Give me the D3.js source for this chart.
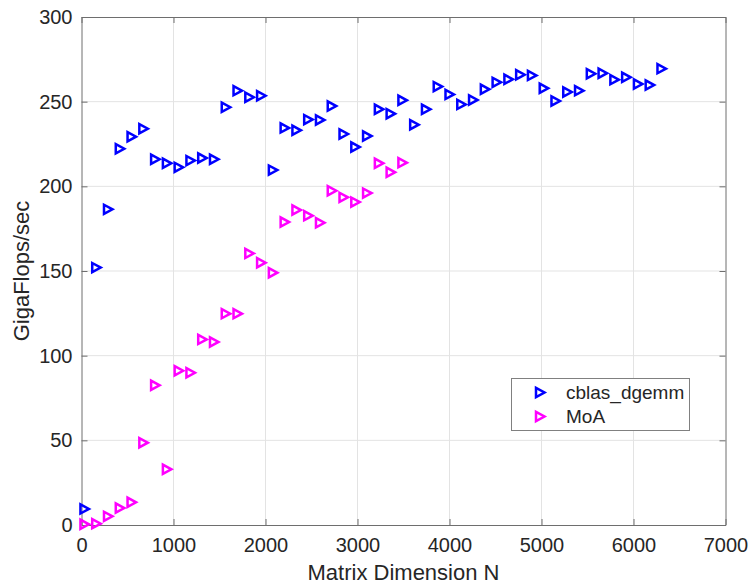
<!DOCTYPE html>
<html>
<head>
<meta charset="utf-8">
<script src="https://cdn.jsdelivr.net/npm/d3@7"></script>
<style>
  html, body { margin: 0; padding: 0; background: #fff; }
  svg { display: block; font-family: "Liberation Sans", Arial, Helvetica, sans-serif; }
</style>
</head>
<body>
<svg id="chart" width="751" height="587"></svg>
<script>
// ---- data ----
const matrixN = [32, 160, 288, 416, 544, 672, 800, 928, 1056, 1184, 1312, 1440, 1568, 1696, 1824, 1952,
  2080, 2208, 2336, 2464, 2592, 2720, 2848, 2976, 3104, 3232, 3360, 3488, 3616, 3744, 3872, 4000,
  4128, 4256, 4384, 4512, 4640, 4768, 4896, 5024, 5152, 5280, 5408, 5536, 5664, 5792, 5920, 6048,
  6176, 6304];
const cblasValues = [9.5, 152, 186.4, 222.2, 229.3, 234, 216, 213.6, 211.2, 215.2, 216.7, 216, 246.7, 256.5,
  252.6, 253.5, 209.6, 234.5, 233.1, 239.4, 239.2, 247.4, 230.9, 223.2, 229.7, 245.5, 242.9, 250.8,
  236.4, 245.5, 258.9, 254.3, 248.4, 251, 257.3, 261.4, 263.2, 265.9, 265.5, 257.9, 250.4, 255.7,
  256.5, 266.5, 266.8, 263, 264.4, 260.4, 259.8, 269.5];
const moaValues = [0.4, 0.8, 5.1, 10, 13.4, 48.6, 82.5, 32.9, 91.1, 89.9, 109.6, 108.1, 124.8, 124.8,
  160.4, 154.9, 149, 178.9, 186, 182.7, 178.5, 197.4, 193.5, 190.7, 196, 213.6, 208.3, 214];
const seriesNames = ["cblas_dgemm", "MoA"];
const seriesColors = ["#0000ff", "#ff00ff"];
const xTicks = [0, 1000, 2000, 3000, 4000, 5000, 6000, 7000];
const yTicks = [0, 50, 100, 150, 200, 250, 300];
const xLabel = "Matrix Dimension N";
const yLabel = "GigaFlops/sec";

// ---- layout ----
const W = 751, H = 587;
const m = { left: 81.5, right: 25.5, top: 17, bottom: 62 };
const svg = d3.select("#chart");
const x = d3.scaleLinear().domain([0, 7000]).range([m.left, W - m.right]);
const y = d3.scaleLinear().domain([0, 300]).range([H - m.bottom, m.top]);
const axisColor = "#262626";
const tickLen = 6;

// grid
const grid = svg.append("g");
grid.selectAll(".gx").data(xTicks.slice(1, -1)).join("line")
  .attr("x1", d => x(d)).attr("x2", d => x(d)).attr("y1", y(0)).attr("y2", y(300))
  .attr("stroke", "#e3e3e3").attr("stroke-width", 1);
grid.selectAll(".gy").data(yTicks.slice(1, -1)).join("line")
  .attr("y1", d => y(d)).attr("y2", d => y(d)).attr("x1", x(0)).attr("x2", x(7000))
  .attr("stroke", "#e3e3e3").attr("stroke-width", 1);

// axes
const fmt = d3.format("d");
const xAxis = svg.append("g").attr("transform", `translate(0,${y(0)})`)
  .call(d3.axisBottom(x).tickValues(xTicks).tickFormat(fmt).tickSizeInner(-tickLen).tickSizeOuter(0).tickPadding(12.5));
const xAxisTop = svg.append("g").attr("transform", `translate(0,${y(300)})`)
  .call(d3.axisTop(x).tickValues(xTicks).tickFormat("").tickSizeInner(-tickLen).tickSizeOuter(0));
const yAxis = svg.append("g").attr("transform", `translate(${x(0)},0)`)
  .call(d3.axisLeft(y).tickValues(yTicks).tickFormat(fmt).tickSizeInner(-tickLen).tickSizeOuter(0).tickPadding(9));
const yAxisRight = svg.append("g").attr("transform", `translate(${x(7000)},0)`)
  .call(d3.axisRight(y).tickValues(yTicks).tickFormat("").tickSizeInner(-tickLen).tickSizeOuter(0));

[xAxis, xAxisTop, yAxis, yAxisRight].forEach(g => {
  g.select(".domain").attr("stroke", "#6e6e6e").attr("stroke-width", 1);
  g.selectAll(".tick line").attr("stroke", "#6e6e6e").attr("stroke-width", 1);
  g.selectAll("text").attr("fill", axisColor).attr("font-size", 20)
    .attr("font-family", "'Liberation Sans', Arial, sans-serif");
});

// axis labels
svg.append("text").attr("x", (x(0) + x(7000)) / 2).attr("y", 580)
  .attr("text-anchor", "middle").attr("font-size", 22).attr("fill", axisColor).text(xLabel);
svg.append("text").attr("transform", `translate(29,${(y(0) + y(300)) / 2}) rotate(-90)`)
  .attr("text-anchor", "middle").attr("font-size", 22).attr("fill", axisColor).text(yLabel);

// marker
const tri = "M-4,-4.6 L4.5,0 L-4,4.6 Z";
function drawSeries(vals, color) {
  svg.append("g").selectAll("path").data(vals).join("path")
    .attr("d", tri)
    .attr("transform", (d, i) => `translate(${x(matrixN[i])},${y(d)})`)
    .attr("fill", "none").attr("stroke", color).attr("stroke-width", 2.5)
    .attr("stroke-linejoin", "miter");
}
drawSeries(cblasValues, seriesColors[0]);
drawSeries(moaValues, seriesColors[1]);

// legend
const lg = svg.append("g");
lg.append("rect").attr("x", 511.5).attr("y", 378.5).attr("width", 178).attr("height", 52)
  .attr("fill", "#fff").attr("stroke", "#808080").attr("stroke-width", 1);
seriesNames.forEach((name, i) => {
  const cy = 392.5 + i * 24;
  lg.append("path").attr("d", tri).attr("transform", `translate(540,${cy})`)
    .attr("fill", "none").attr("stroke", seriesColors[i]).attr("stroke-width", 2.5);
  lg.append("text").attr("x", 566).attr("y", cy + 6.5).attr("font-size", 19)
    .attr("fill", axisColor).text(name);
});
</script>
</body>
</html>
